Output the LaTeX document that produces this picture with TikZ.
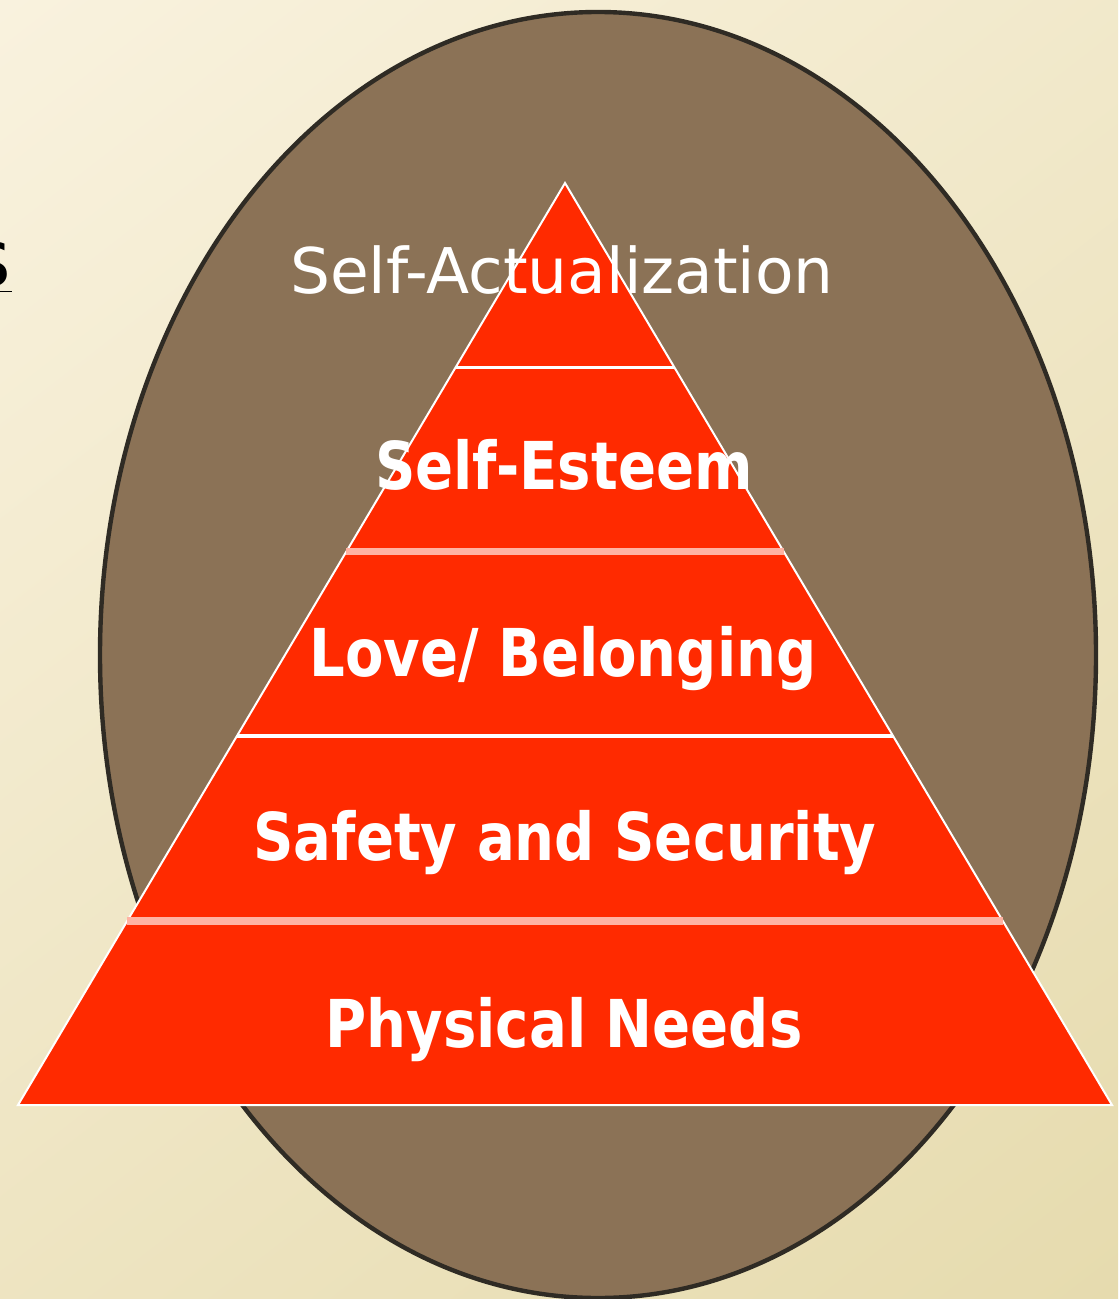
\documentclass[tikz,border=0pt]{standalone}
\usepackage{fontspec}
\usetikzlibrary{calc,shadings}
\newfontfamily\tierfont{DejaVu Sans}
\newcommand\squeezed[1]{\scalebox{0.85}[1]{#1}}
\definecolor{paperlight}{HTML}{F9F2DE}
\definecolor{paperdark}{HTML}{E6DBAE}
\definecolor{earth}{HTML}{8B7256}
\definecolor{earthline}{HTML}{2F2B24}
\definecolor{tierred}{HTML}{FF2A00}
\definecolor{seam}{HTML}{FFB3A3}

\begin{document}
\begin{tikzpicture}[x=0.5pt, y=-0.5pt,
    tier/.style={text=white, inner sep=0pt, anchor=base,
        font=\tierfont\bfseries\fontsize{33pt}{38pt}\selectfont},
    toptier/.style={text=white, inner sep=0pt, anchor=base,
        font=\tierfont\fontsize{31.5pt}{36pt}\selectfont}]
    \useasboundingbox (0,0) rectangle (1118,1299);
    \clip (0,0) rectangle (1118,1299);

    % Background
    \shade[upper left=paperlight, upper right=paperlight!60!paperdark,
        lower left=paperlight!40!paperdark, lower right=paperdark] (0,0) rectangle (1118,1299);

    % Brown ellipse
    \filldraw[fill=earth, draw=earthline, line width=2.2pt] (598,655) ellipse [x radius=498, y radius=643];

    % Cut-off heading on the left
    \node[anchor=base east, inner sep=0pt, font=\tierfont\fontsize{40pt}{44pt}\selectfont] (cutoff) at (12,287) {\underline{s}};

    % Pyramid
    \coordinate (apex) at (565,183);
    \coordinate (bl) at (18,1105);
    \coordinate (br) at (1112,1105);
    \filldraw[fill=tierred, draw=white, line width=1pt] (apex) -- (bl) -- (br) -- cycle;

    % Dividers between the tiers
    \foreach \k/\c/\w in {1/white/1.5pt, 2/seam/3.5pt, 3/white/2pt, 4/seam/4pt} {
        \coordinate (l\k) at ($(apex)!\k/5!(bl)$);
        \coordinate (r\k) at ($(apex)!\k/5!(br)$);
        \draw[\c, line width=\w] (l\k) -- (r\k);
    }

    % Labels
    \node[toptier] (selfact) at (562,293) {Self-Actualization};
    \node[tier] (esteem) at (564,489) {\squeezed{Self-Esteem}};
    \node[tier] (love) at (563,676) {\squeezed{Love/ Belonging}};
    \node[tier] (safety) at (565,860) {\squeezed{Safety and Security}};
    \node[tier] (physical) at (564,1047) {\squeezed{Physical Needs}};
\end{tikzpicture}
\end{document}
